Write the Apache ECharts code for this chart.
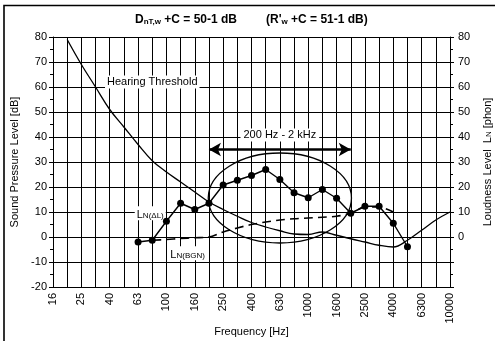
<!DOCTYPE html>
<html><head><meta charset="utf-8">
<script src="https://cdn.jsdelivr.net/npm/echarts@6/dist/echarts.min.js"></script>
<style>html,body{margin:0;padding:0;background:#fff}#c{width:495px;height:341px}</style>
</head><body><div id="c"></div>
<script>
const freqs = ['16','20','25','31.5','40','50','63','80','100','125','160','200','250','315','400','500','630','800','1000','1250','1600','2000','2500','3150','4000','5000','6300','8000','10000'];
const hearingThreshold = [null,79,69,60,51,44,37,30.5,26,22,18,14,11,8.3,5.8,4,2.5,1.2,1,2,0.7,-0.7,-2,-3.3,-4,-1.3,2.7,6.8,10];
const lnDeltaL = [null,null,null,null,null,null,-2,-1.3,6.3,13.5,11,13.5,20.8,22.7,24.6,27,23,17.7,15.7,19,15.5,9.5,12.3,12.3,5.5,-3.9,null,null,null];
const lnBGN = [null,null,null,null,null,null,null,-1.3,-1,-0.6,-0.3,0,2,3.6,5,6,6.8,7.3,7.6,7.9,8.3,9.5,12,12,10,null,null,null,null];
// ellipse annotation: [centre band index, centre level, x semi-axis (bands), y semi-axis (dB)]
const ellipseNote = [[16, 15.6, 5.05, 18]];
const rangeArrow = { from: '200', to: '2000', level: 35, text: '200 Hz - 2 kHz' };
const yMin = -20, yMax = 80, yStep = 10;

const FONT = 'Liberation Sans, Arial, sans-serif';
const chart = echarts.init(document.getElementById('c'));
const subRich = {
  m: { fontSize: 11, fontFamily: FONT, color: '#000', verticalAlign: 'bottom', lineHeight: 14 },
  s: { fontSize: 8, fontFamily: FONT, color: '#000', verticalAlign: 'bottom', lineHeight: 10 }
};
const titleRich = {
  m: { fontSize: 12, fontWeight: 'bold', fontFamily: FONT, verticalAlign: 'bottom', lineHeight: 15 },
  s: { fontSize: 8, fontWeight: 'bold', fontFamily: FONT, verticalAlign: 'bottom', lineHeight: 12 }
};
chart.setOption({
  animation: false,
  backgroundColor: '#fff',
  grid: { left: 53, right: 45, top: 37, bottom: 54, outerBoundsMode: 'none', containLabel: false },
  graphic: [
    { type: 'rect', shape: { x: 4, y: 5.5, width: 600, height: 500 }, style: { fill: 'none', stroke: '#000', lineWidth: 1.6 }, silent: true },
    { type: 'text', left: 135, top: 14, style: { text: '{m|D}{s|nT,w}{m| +C = 50-1 dB}', rich: titleRich } },
    { type: 'text', left: 266, top: 14, style: { text: "{m|(R'}{s|w}{m| +C = 51-1 dB)}", rich: titleRich } }
  ],
  xAxis: {
    type: 'category', data: freqs, boundaryGap: false,
    name: 'Frequency [Hz]', nameLocation: 'middle', nameGap: 39, nameMoveOverlap: false,
    nameTextStyle: { fontSize: 11, fontFamily: FONT, color: '#000' },
    axisLine: { lineStyle: { color: '#000', width: 1 } },
    axisTick: { show: true, interval: 0, length: 4, lineStyle: { color: '#000' } },
    axisLabel: { interval: 1, rotate: 90, fontSize: 11, fontFamily: FONT, color: '#000', margin: 6 },
    splitLine: { show: true, interval: 0, lineStyle: { color: '#000', width: 1 } }
  },
  yAxis: [
    { type: 'value', min: yMin, max: yMax, interval: yStep,
      name: 'Sound Pressure Level [dB]', nameLocation: 'middle', nameGap: 33, nameRotate: 90,
      nameTextStyle: { fontSize: 11, fontFamily: FONT, color: '#000' },
      axisLine: { show: true, lineStyle: { color: '#000' } },
      axisTick: { show: true, length: 4, lineStyle: { color: '#000' } },
      minorTick: { show: true, splitNumber: 2, length: 3, lineStyle: { color: '#000' } },
      axisLabel: { fontSize: 11, fontFamily: FONT, color: '#000', margin: 6 },
      splitLine: { show: true, lineStyle: { color: '#000', width: 1 } } },
    { type: 'value', min: yMin, max: yMax, interval: yStep, position: 'right',
      name: '{m|Loudness Level  L}{s|N}{m| [phon]}', nameLocation: 'middle', nameGap: 29, nameRotate: 90,
      nameTextStyle: { fontSize: 11, fontFamily: FONT, color: '#000', rich: subRich },
      axisLine: { show: true, lineStyle: { color: '#000' } },
      axisTick: { show: true, length: 4, lineStyle: { color: '#000' } },
      minorTick: { show: true, splitNumber: 2, length: 3, lineStyle: { color: '#000' } },
      axisLabel: { fontSize: 11, fontFamily: FONT, color: '#000', margin: 8, formatter: v => v < 0 ? '' : String(v) },
      splitLine: { show: false } }
  ],
  series: [
    { name: 'Hearing Threshold', type: 'line', data: hearingThreshold, smooth: 0.4, showSymbol: false,
      lineStyle: { color: '#000', width: 1.3 }, z: 3,
      markPoint: { symbol: 'circle', symbolSize: 0, silent: true,
        label: { show: true, position: 'inside', formatter: 'Hearing Threshold', fontSize: 11, fontFamily: FONT, color: '#000',
          backgroundColor: '#fff', padding: [1, 2] },
        data: [{ coord: ['80', 62] }] } },
    { name: 'LN(BGN)', type: 'line', data: lnBGN, smooth: 0.3, showSymbol: false,
      lineStyle: { color: '#000', width: 1.6, type: [9, 5] }, z: 4,
      markPoint: { symbol: 'circle', symbolSize: 0, silent: true,
        label: { show: true, position: 'inside', offset: [7, 0], formatter: '{m|L}{s|N(BGN)}', rich: subRich,
          backgroundColor: '#fff', padding: [0, 2] },
        data: [{ coord: ['125', -6.5] }] } },
    { name: 'LN(ΔL)', type: 'line', data: lnDeltaL, showSymbol: true, symbol: 'circle', symbolSize: 7,
      itemStyle: { color: '#000' }, lineStyle: { color: '#000', width: 1.4 }, z: 5,
      markPoint: { symbol: 'circle', symbolSize: 0, silent: true,
        label: { show: true, position: 'inside', offset: [-2, 0], formatter: '{m|L}{s|N(ΔL)}', rich: subRich,
          backgroundColor: '#fff', padding: [0, 2] },
        data: [{ coord: ['80', 9.5] }] },
      markLine: { silent: true, symbol: ['arrow', 'arrow'], symbolSize: [10, 12],
        lineStyle: { color: '#000', width: 2.6, type: 'solid' },
        label: { show: true, position: 'middle', formatter: rangeArrow.text, fontSize: 11, fontFamily: FONT, color: '#000',
          backgroundColor: '#fff', padding: [1, 3], distance: 8 },
        data: [[{ coord: [rangeArrow.from, rangeArrow.level] }, { coord: [rangeArrow.to, rangeArrow.level] }]] } },
    { name: 'range', type: 'custom', data: ellipseNote, z: 3, silent: true,
      renderItem: (params, api) => {
        const c = api.coord([api.value(0), api.value(1)]);
        const band = api.size([1, 0])[0];
        const yb = api.size([0, api.value(3)], [api.value(0), api.value(1)])[1];
        return { type: 'ellipse', shape: { cx: c[0], cy: c[1], rx: band * api.value(2), ry: yb },
          style: { fill: 'none', stroke: '#000', lineWidth: 1.3 } };
      } }
  ]
});
</script></body></html>
